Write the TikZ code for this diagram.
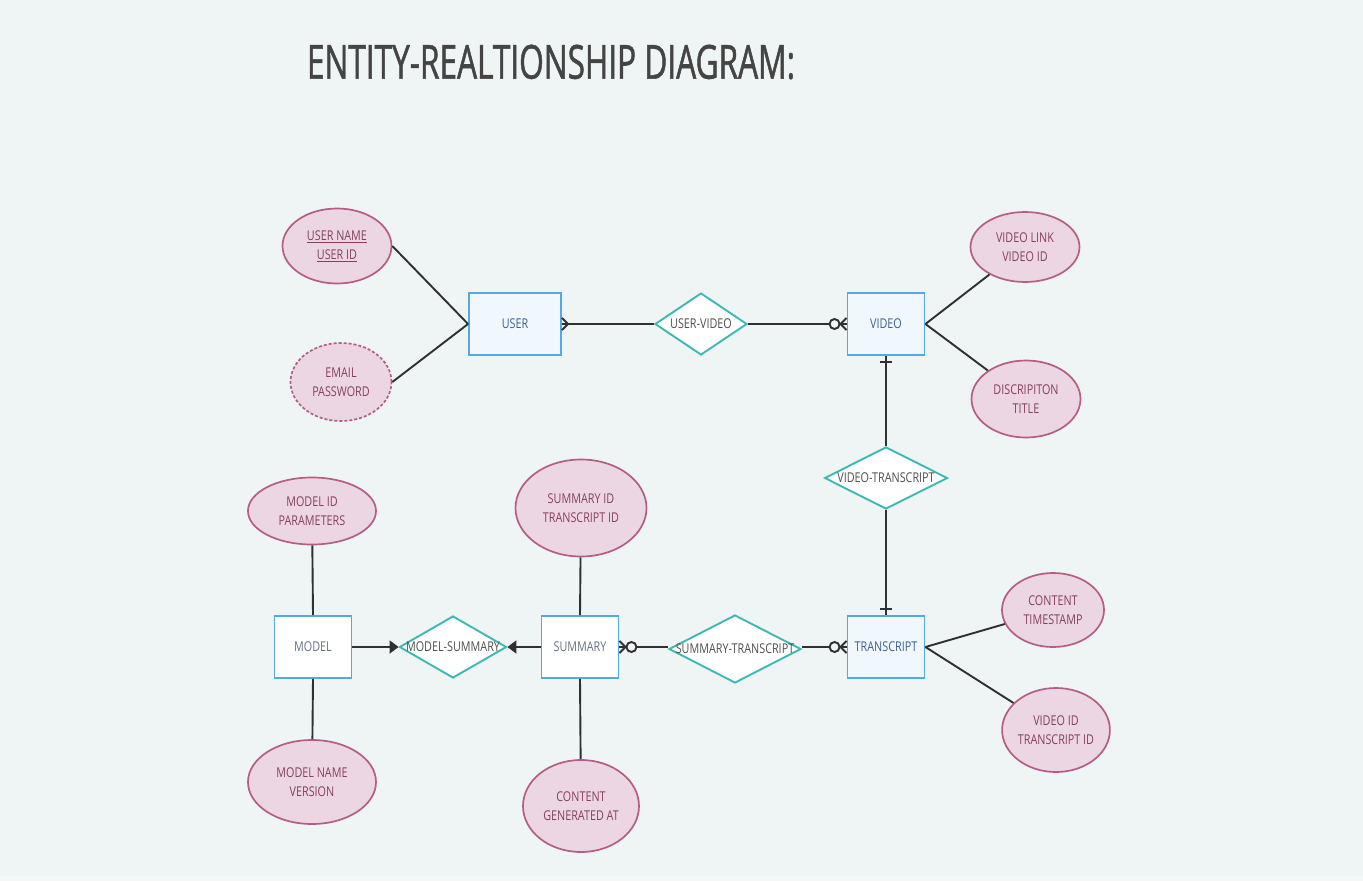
\documentclass[tikz,border=0pt]{standalone}
\usepackage{fontspec}
\setmainfont{Open Sans}
\newfontfamily\lab[FakeStretch=0.8]{Open Sans}
\newfontfamily\ttlfont[FakeStretch=0.8,FakeBold=1.2]{Open Sans}
\usetikzlibrary{shapes.geometric,arrows.meta,calc}
\definecolor{bg}{HTML}{EFF4F4}
\definecolor{bgb}{HTML}{F5F8F8}
\definecolor{entb}{HTML}{55A8E6}
\definecolor{entf}{HTML}{F0F7FD}
\definecolor{relb}{HTML}{3DB9B4}
\definecolor{attf}{HTML}{EDD6E3}
\definecolor{attb}{HTML}{B45E87}
\definecolor{atxt}{HTML}{84405F}
\definecolor{etxt}{HTML}{3A6390}
\definecolor{gtxt}{HTML}{667385}
\definecolor{rtxt}{HTML}{505050}
\definecolor{ln}{HTML}{303030}
\definecolor{ttl}{HTML}{444444}
\tikzset{
  entity/.style={draw=entb, line width=1.9pt, fill=entf, minimum width=#1, minimum height=62pt, inner sep=0pt, text=etxt, font=\lab\fontsize{13.5}{16}\selectfont},
  entity/.default=77pt,
  entityw/.style={entity=77pt, fill=white, text=gtxt},
  rel/.style n args={2}{draw=relb, line width=1.9pt, fill=white, diamond, minimum width=#1, minimum height=#2, inner sep=0pt},
  rellab/.style={text=rtxt, font=\lab\fontsize{13.5}{16}\selectfont, inner sep=0pt},
  attr/.style n args={2}{draw=attb, line width=1.7pt, fill=attf, ellipse, minimum width=#1, minimum height=#2, inner sep=0pt, text=atxt, align=center, font=\lab\fontsize{13.5}{19}\selectfont},
  conn/.style={draw=ln, line width=1.9pt},
  tri/.style={conn, -{Triangle[length=9pt,width=13pt]}},
}
\begin{document}
\begin{tikzpicture}[x=1pt,y=-1pt]
\useasboundingbox (0,0) rectangle (1363,881);
\fill[bg] (0,0) rectangle (1363,876);
\fill[bgb] (0,876) rectangle (1363,881);

\node[text=ttl, inner sep=0pt] (title) at (551,62) {\resizebox{488pt}{34pt}{\ttlfont ENTITY-REALTIONSHIP DIAGRAM:}};

% entities
\node[entity=92pt] (user) at (515,324) {USER};
\node[entity] (video) at (886,324) {VIDEO};
\node[entity] (trans) at (886,647) {TRANSCRIPT};
\node[entityw] (summ) at (580,647) {SUMMARY};
\node[entityw] (model) at (313,647) {MODEL};

% relationships
\node[rel={92pt}{62pt}, label={[rellab]center:USER-VIDEO}] (uv) at (701,324) {};
\node[rel={123pt}{62pt}, label={[rellab]center:VIDEO-TRANSCRIPT}] (vt) at (886,478) {};
\node[rel={107pt}{62pt}, label={[rellab]center:MODEL-SUMMARY}] (ms) at (453,647) {};
\node[rel={132pt}{68pt}, label={[rellab]center:SUMMARY-TRANSCRIPT}] (st) at (735,649) {};

% attributes
\node[attr={109pt}{75pt}] (uname) at (337,246) {\underline{USER NAME}\\\underline{USER ID}};
\node[attr={101pt}{78pt}, dash pattern=on 3pt off 2pt] (email) at (341,382) {EMAIL\\PASSWORD};
\node[attr={109pt}{70pt}] (vlink) at (1025,247) {VIDEO LINK\\VIDEO ID};
\node[attr={109pt}{77pt}] (vdesc) at (1026,399) {DISCRIPITON\\TITLE};
\node[attr={128pt}{67pt}] (mid) at (312,511) {MODEL ID\\PARAMETERS};
\node[attr={128pt}{84pt}] (mname) at (312,782) {MODEL NAME\\VERSION};
\node[attr={131pt}{97pt}] (sid) at (581,508) {SUMMARY ID\\TRANSCRIPT ID};
\node[attr={116pt}{92pt}] (scont) at (581,806) {CONTENT\\GENERATED AT};
\node[attr={102pt}{74pt}] (tcont) at (1053,610) {CONTENT\\TIMESTAMP};
\node[attr={107pt}{84pt}] (tvid) at (1056,730) {VIDEO ID\\TRANSCRIPT ID};

% attribute connectors
\draw[conn] (uname.east) -- (user.west);
\draw[conn] (email.east) -- (user.west);
\draw[conn] (vlink) -- (video.east);
\draw[conn] (vdesc) -- (video.east);
\draw[conn] (tcont) -- (trans.east);
\draw[conn] (tvid) -- (trans.east);
\draw[conn] (mid) -- (model.north);
\draw[conn] (mname) -- (model.south);
\draw[conn] (sid) -- (summ.north);
\draw[conn] (scont) -- (summ.south);

% relationship connectors
\draw[conn] (user.east) -- (uv.west);
\draw[conn] ($(user.east)+(6,0)$) -- ($(user.east)+(0,-6)$);
\draw[conn] ($(user.east)+(6,0)$) -- ($(user.east)+(0,6)$);

\draw[conn] (uv.east) -- (video.west);
\draw[conn] ($(video.west)+(-6,0)$) -- ($(video.west)+(0,-6)$);
\draw[conn] ($(video.west)+(-6,0)$) -- ($(video.west)+(0,6)$);
\draw[conn, fill=bg] ($(video.west)+(-12,0)$) circle[radius=5pt];

\draw[conn] (video.south) -- (vt.north);
\draw[conn] ($(video.south)+(-6,6)$) -- ($(video.south)+(6,6)$);
\draw[conn] (vt.south) -- (trans.north);
\draw[conn] ($(trans.north)+(-6,-6)$) -- ($(trans.north)+(6,-6)$);

\draw[conn] (st.east |- trans.west) -- (trans.west);
\draw[conn] ($(trans.west)+(-6,0)$) -- ($(trans.west)+(0,-6)$);
\draw[conn] ($(trans.west)+(-6,0)$) -- ($(trans.west)+(0,6)$);
\draw[conn, fill=bg] ($(trans.west)+(-12,0)$) circle[radius=5pt];

\draw[conn] (summ.east) -- (st.west |- summ.east);
\draw[conn] ($(summ.east)+(6,0)$) -- ($(summ.east)+(0,-6)$);
\draw[conn] ($(summ.east)+(6,0)$) -- ($(summ.east)+(0,6)$);
\draw[conn, fill=bg] ($(summ.east)+(12,0)$) circle[radius=5pt];

\draw[tri] (model.east) -- (ms.west);
\draw[tri] (summ.west) -- (ms.east);
\end{tikzpicture}
\end{document}
